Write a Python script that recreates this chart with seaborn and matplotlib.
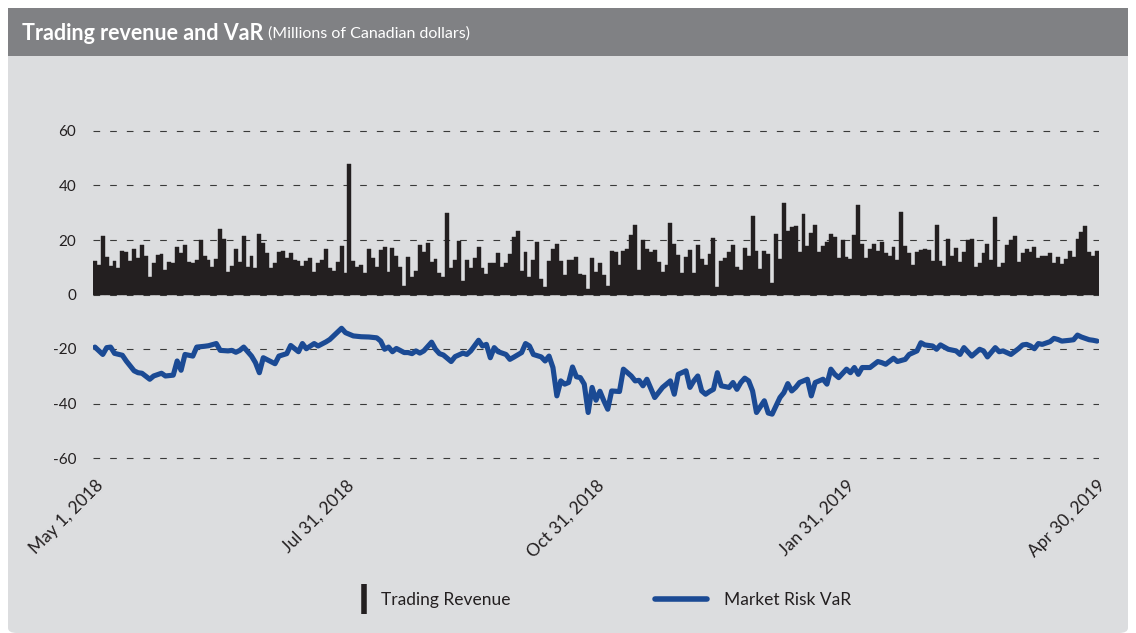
import numpy as np
import pandas as pd
import seaborn as sns
import matplotlib.pyplot as plt
from matplotlib.patches import FancyBboxPatch, Rectangle
from matplotlib.lines import Line2D

# ── Data (Millions of CAD) ─────────────────────────────────────────────────────
revenue = [
    12.4, 11, 21.3, 13.8, 10.6, 12.4, 9.8, 15.9, 15.7, 12.2, 16.6, 13.4, 18.3, 14.3, 6.3, 11.6, 14.6, 15, 9.1, 12, 11.6,
    17.4, 15.4, 18, 12, 11.7, 12.7, 20, 14.3, 12.7, 10.2, 13.2, 24, 20.4, 8.3, 10.5, 16.7, 11.8, 21.3, 10.1, 14.3, 9.8, 22.3,
    18.9, 15.1, 9.6, 11.5, 15.6, 16.1, 13.5, 15.4, 12.6, 12.2, 10.4, 12.2, 13.3, 8.2, 11.7, 12.7, 16.6, 9.8, 8.5, 12, 17.7, 7.9,
    47.8, 12.2, 10.2, 11, 7.8, 16.8, 13.4, 10.2, 16.5, 17.4, 8.3, 17, 14.3, 10.1, 3.3, 13.8, 6.6, 8.5, 18, 15.6, 18.9,
    12, 13, 8, 6.6, 29.9, 9.8, 12.6, 19.6, 5, 12.6, 9.6, 13.3, 17.6, 9.6, 7.6, 11.7, 11.5, 15.1, 10, 11.6, 14.9, 21,
    23.2, 8.8, 15.6, 6.6, 12.7, 19.1, 5.7, 2.7, 12.4, 16.6, 18.4, 12.4, 7.3, 12.7, 12.7, 13.8, 7.6, 7.1, 2, 13.4, 8.3, 11.5,
    7.3, 3, 16.1, 15.7, 10.9, 15.9, 16.8, 21.8, 25.5, 9.1, 20, 16.6, 15.7, 16.2, 12, 8.3, 11, 26.2, 18.7, 14.6, 7.9,
    13.7, 16.2, 7.9, 18, 13.2, 10.9, 14.8, 20.9, 2.6, 12.2, 13.5, 15.5, 18.2, 10.2, 8.9, 17.1, 14.1, 28.7, 16, 9.4, 15.9, 15,
    4.3, 22.1, 12.9, 33.4, 23.3, 24.6, 25.2, 15.7, 29.6, 17.7, 22.7, 25.4, 15.5, 17.8, 19.1, 22.1, 21, 13.4, 20, 13.7, 12.9, 21.7,
    32.9, 18.5, 13.4, 16.8, 18.5, 15.9, 19.3, 15.1, 14.1, 17.4, 12.7, 30.2, 17.7, 15.1, 11, 15.6, 16.5, 16.6, 16.2, 12.4, 25.4, 12.4,
    10.6, 20.5, 14.1, 17, 12, 15.5, 20, 20.5, 10.2, 11.7, 15.1, 18.7, 12.6, 28.4, 10.2, 11.7, 18, 20.1, 21.6, 11.8, 15.1,
    16.6, 15.7, 17.3, 13.4, 14, 14.3, 15.1, 11.7, 13.8, 11.1, 13.2, 15.9, 13.7, 20.2, 22.8, 25.2, 15.5, 14, 16.1,
]
trading_day = list(range(len(revenue)))

var_day = [
    0, 2, 3, 4, 5, 7, 8, 10, 11, 12, 14, 15, 17, 18, 20, 21, 22, 23, 25, 26, 28, 29, 31, 32, 34, 35, 36, 37, 38, 40,
    41, 42, 43, 46, 47, 49, 50, 52, 53, 54, 56, 57, 59, 60, 63, 64, 66, 68, 70, 72, 73, 74, 75, 76, 77, 79, 80, 81, 82, 83,
    84, 86, 87, 88, 89, 91, 92, 94, 95, 96, 98, 99, 100, 101, 102, 103, 105, 106, 107, 109, 110, 111, 112, 114, 115, 116, 117, 118, 119, 120,
    121, 122, 123, 124, 125, 126, 127, 128, 129, 130, 131, 132, 134, 135, 137, 138, 139, 140, 141, 143, 145, 146, 147, 148, 149, 151, 152, 153, 154, 155,
    156, 157, 158, 159, 160, 162, 163, 164, 165, 166, 167, 168, 169, 171, 172, 173, 175, 176, 177, 178, 179, 180, 182, 183, 184, 185, 186, 187, 188, 189,
    190, 192, 193, 194, 195, 196, 198, 200, 201, 202, 204, 205, 207, 208, 210, 211, 212, 214, 215, 216, 218, 220, 221, 222, 224, 226, 227, 228, 230, 231,
    232, 234, 236, 237, 238, 239, 240, 241, 242, 244, 245, 246, 247, 249, 250, 251, 252, 254, 255, 256,
]
var_value = [
    -19.3, -22, -19.5, -19.3, -21.6, -22.3, -24.4, -28, -28.7, -28.9, -31.1, -29.9, -28.9, -29.9, -29.6, -24.4, -27.8, -22, -22.6, -19.3,
    -19, -18.8, -18, -20.5, -20.7, -20.5, -21.2, -20.5, -19.3, -22.6,
    -25, -28.7, -23.2, -25.4, -22.6, -21.7, -18.7, -21, -18, -19.9, -18, -18.9, -17.4, -16.5, -12.4, -14, -15.2, -15.5, -15.6, -15.9,
    -17.1, -20.1, -19.3, -21, -19.8, -21.3, -21.3, -21.7, -20.7, -21.5,
    -20.7, -17.5, -20.1, -21.7, -22.2, -24.6, -22.8, -21.5, -22, -20.7, -16.8, -18.9, -18.3, -23.2, -19.5, -21, -22, -23.8, -23, -21.3,
    -18, -18.9, -22, -22.9, -24.4, -22.6, -26.8, -37.2, -31.7, -32.9,
    -32.3, -26.6, -30.2, -30.5, -32.9, -43.3, -34.1, -38.8, -35.5, -39, -42.1, -35.4, -35.6, -27.4, -29.9, -31.7, -31.5, -33.5, -31.1, -37.8,
    -34.1, -32.9, -31.7, -36.6, -29.3, -28, -34.1, -31.7, -29.9, -35.4,
    -36.6, -35.6, -34.8, -28.7, -33.5, -34.1, -32.3, -34.8, -32.3, -30.7, -31.7, -35.4, -43.3, -39, -43.5, -43.9, -37.8, -36, -32.7, -35.4,
    -34.1, -32.3, -31.1, -37.2, -32.3, -31.7, -31.1, -32.9, -27.4, -29.3,
    -30.5, -27.4, -28.7, -26.8, -29.3, -26.8, -26.8, -24.6, -25, -25.6, -23.4, -24.6, -23.8, -22, -20.7, -17.7, -18.5, -18.9, -20.1, -18.5,
    -20.1, -20.7, -22, -19.5, -22.6, -20.1, -20.7, -22.9, -19.5, -21,
    -20.7, -22, -19.8, -18.5, -18.3, -18.9, -19.9, -18, -18.3, -17.3, -16.1, -16.5, -17.1, -16.8, -16.6, -14.9, -15.6, -16.6, -16.8, -17.1,
]

tick_day = [0, 64, 128, 192, 256]
tick_labels = ["May 1, 2018", "Jul 31, 2018", "Oct 31, 2018", "Jan 31, 2019", "Apr 30, 2019"]
y_ticks = [-60, -40, -20, 0, 20, 40, 60]

BAR_COLOR = "#231f20"
VAR_COLOR = "#1b4a94"
PANEL = "#dcdddf"
HEADER = "#808184"
TEXT = "#231f20"

df_rev = pd.DataFrame({"day": trading_day, "revenue": revenue})
df_var = pd.DataFrame({"day": var_day, "var": var_value})

# ── Figure ─────────────────────────────────────────────────────────────────────
sns.set_theme(style="white")
plt.rcParams["font.family"] = ["Lato", "DejaVu Sans"]

W, H = 1136, 633
fig = plt.figure(figsize=(W / 100, H / 100), dpi=100)
fig.patch.set_facecolor("white")

# panel + header band
fig.patches.append(FancyBboxPatch((8 / W, 0), 1120 / W, (H - 8) / H,
                                  boxstyle="round,pad=0,rounding_size=0.008",
                                  transform=fig.transFigure, facecolor=PANEL,
                                  edgecolor="none", zorder=-2))
fig.patches.append(Rectangle((8 / W, 1 - 56 / H), 1120 / W, 48 / H,
                             transform=fig.transFigure, facecolor=HEADER,
                             edgecolor="none", zorder=-1))
t = fig.text(22 / W, 1 - 33 / H, "Trading revenue and VaR", color="white",
             fontsize=15.5, fontweight="bold", va="center", ha="left")
fig.canvas.draw()
bb = t.get_window_extent()
fig.text(bb.x1 / W + 5 / W, 1 - 34 / H, "(Millions of Canadian dollars)", color="white",
         fontsize=11.5, va="center", ha="left")

# axes: 60 at y=131px, -60 at y=458px; bars span x=93..1099px
px_per_unit = (458 - 131) / 120
ylo, yhi = -66, 66
top_px = 131 - (yhi - 60) * px_per_unit
bot_px = 458 + (-60 - ylo) * px_per_unit
ax = fig.add_axes([93 / W, 1 - bot_px / H, (1099 - 93) / W, (bot_px - top_px) / H])
ax.set_zorder(5)
ax.set_facecolor("none")

sns.barplot(data=df_rev, x="day", y="revenue", native_scale=True, color=BAR_COLOR,
            saturation=1, width=1.0, linewidth=0.3, edgecolor=BAR_COLOR, ax=ax, zorder=3)
sns.lineplot(data=df_var, x="day", y="var", color=VAR_COLOR, linewidth=3.7,
             ax=ax, zorder=4, solid_joinstyle="round", solid_capstyle="round")

ax.set_xlim(-0.5, len(revenue) - 0.5)
ax.set_ylim(ylo, yhi)
ax.set_yticks(y_ticks)
ax.set_yticklabels([str(v) for v in y_ticks], color=TEXT, fontsize=11)
for v in y_ticks:
    ax.axhline(v, color="#3a3a3a", linewidth=0.8, linestyle=(0, (6, 9)), zorder=1)
ax.set_xticks(tick_day)
ax.set_xticklabels(tick_labels, rotation=45, ha="right", rotation_mode="anchor",
                   color=TEXT, fontsize=12.5)
ax.tick_params(axis="x", length=0, pad=2)
ax.tick_params(axis="y", length=0, pad=12)
ax.set_xlabel("")
ax.set_ylabel("")
for s in ax.spines.values():
    s.set_visible(False)
if ax.get_legend():
    ax.get_legend().remove()

# legend: two pieces so each handle gets its own length
leg_y = 1 - 600 / H
bar_handle = Line2D([], [], color=BAR_COLOR, marker="|", linestyle="none",
                    markersize=22, markeredgewidth=4)
var_handle = Line2D([], [], color=VAR_COLOR, linewidth=4)
fig.legend([bar_handle], ["Trading Revenue"], loc="center left",
           bbox_to_anchor=(355 / W, leg_y), frameon=False, fontsize=12.5,
           handlelength=1.0, handletextpad=0.5, borderpad=0, borderaxespad=0,
           labelcolor=TEXT)
fig.legend([var_handle], ["Market Risk VaR"], loc="center left",
           bbox_to_anchor=(655 / W, leg_y), frameon=False, fontsize=12.5,
           handlelength=3.0, handletextpad=1.0, borderpad=0, borderaxespad=0,
           labelcolor=TEXT)

fig.savefig("out.png", dpi=100, facecolor=fig.get_facecolor())
